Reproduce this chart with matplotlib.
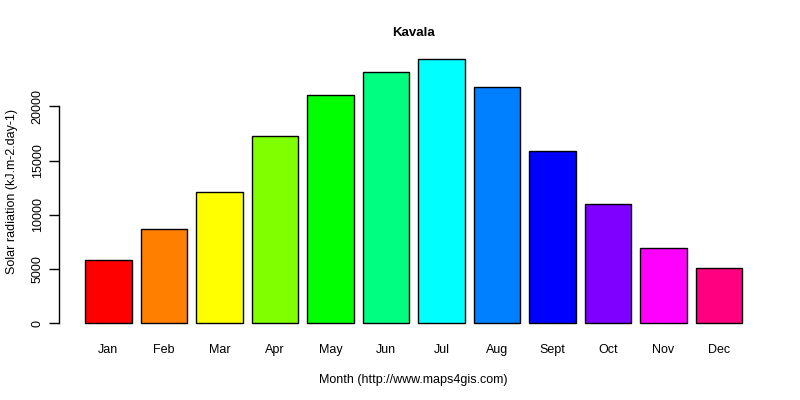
import numpy as np
import matplotlib
matplotlib.use("Agg")
import matplotlib.pyplot as plt

plt.rcParams['font.family'] = ['Liberation Sans', 'DejaVu Sans']

# monthly solar radiation
months = ['Jan', 'Feb', 'Mar', 'Apr', 'May', 'Jun',
          'Jul', 'Aug', 'Sept', 'Oct', 'Nov', 'Dec']
radiation = [5810, 8670, 12080, 17240, 21010, 23130,
             24330, 21750, 15850, 10970, 6910, 5070]
bar_colors = ['#FF0000', '#FF8000', '#FFFF00', '#80FF00', '#00FF00', '#00FF80',
              '#00FFFF', '#0080FF', '#0000FF', '#8000FF', '#FF00FF', '#FF0080']
yticks = [0, 5000, 10000, 15000, 20000]

fig = plt.figure(figsize=(8, 4), dpi=100)
ax = fig.add_axes([0.07375, 0.165, 0.9605 - 0.07375, 0.878 - 0.165])

# R barplot layout: width 1, space 0.2
x = 0.2 + 1.2 * np.arange(len(months)) + 0.5
ax.bar(x, radiation, width=1.0, color=bar_colors, edgecolor='black', linewidth=1)

top = max(radiation)
ax.set_xlim(0.2 - 0.04 * 14.2, 14.4 + 0.04 * 14.2)
ax.set_ylim(-0.04 * top, top * 1.04)

for s in ['top', 'right', 'bottom']:
    ax.spines[s].set_visible(False)
ax.spines['left'].set_bounds(0, 20000)
ax.spines['left'].set_linewidth(1)

ax.set_yticks(yticks)
ax.set_yticklabels([str(t) for t in yticks], rotation=90, va='center', fontsize=9)
ax.tick_params(axis='y', length=7, width=1, pad=4)
ax.set_xticks(x)
ax.set_xticklabels(months, fontsize=9)
ax.tick_params(axis='x', length=0, pad=7)

ax.set_xlabel('Month (http://www.maps4gis.com)', fontsize=9, labelpad=13)
ax.set_ylabel('Solar radiation (kJ.m-2.day-1)', fontsize=9, labelpad=10)
ax.set_title('Kavala', fontsize=9.5, fontweight='bold', pad=9)

fig.savefig('out.png', dpi=100)
